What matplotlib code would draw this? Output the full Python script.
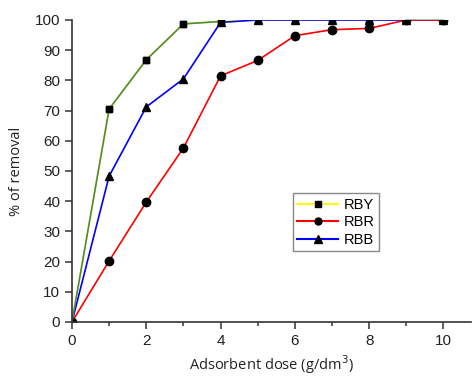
import matplotlib.pyplot as plt
from matplotlib.lines import Line2D

# adsorbent dose (g/dm3)
dose = [0, 1, 2, 3, 4, 5, 6, 7, 8, 9, 10]

# % of removal
rby = [0, 70.5, 86.8, 98.7, 99.5, 100, 100, 100, 100, 100, 100]
rbr = [0, 20.2, 39.7, 57.6, 81.5, 86.6, 94.8, 96.8, 97.2, 100, 100]
rbb = [0, 48.3, 71.2, 80.5, 99.2, 100, 100, 100, 100, 100, 100]

fig = plt.figure(figsize=(4.72, 3.77), dpi=100)
ax = fig.add_axes([0.1525, 0.146, 0.846, 0.801])

ax.plot(dose, rby, color='yellow', lw=1.2, marker='s', ms=5, mfc='black', mec='black',
        zorder=3)
ax.plot(dose, rbb, color='blue', lw=1.2, marker='^', ms=5.5, mfc='black', mec='black',
        zorder=3)
ax.plot(dose, rbr, color='red', lw=1.2, marker='o', ms=6, mfc='black', mec='black',
        zorder=3)
# green start of the RBY curve and grey end segment, as in the original
ax.plot(dose[:5], rby[:5], color='#4e8a46', lw=1.2, clip_on=False, zorder=4)
ax.plot(dose[9:], rby[9:], color='#aaaaaa', lw=1.2, clip_on=False, zorder=2)
ax.plot(dose[1:5], rby[1:5], ls='none', marker='s', ms=5, color='black', zorder=5)

ax.set_xlim(0, 10.75)
ax.set_ylim(0, 100)
ax.set_xticks([0, 2, 4, 6, 8, 10])
ax.set_xticks([1, 3, 5, 7, 9], minor=True)
ax.set_yticks(range(0, 101, 10))

ax.spines['top'].set_visible(False)
ax.spines['right'].set_visible(False)
for s in ['left', 'bottom']:
    ax.spines[s].set_color('#333333')
    ax.spines[s].set_linewidth(1.2)
    ax.spines[s].set_zorder(6)
ax.tick_params(direction='out', length=5, width=1.1, color='#333333',
               labelsize=11, labelcolor='#222222')
ax.tick_params(which='minor', direction='out', length=3, width=1.1, color='#333333')
for lab in ax.get_xticklabels() + ax.get_yticklabels():
    lab.set_family('Liberation Sans')

ax.set_xlabel('Adsorbent dose (g/dm$^3$)', family='Open Sans', fontsize=10.5, color='#222222')
ax.set_ylabel('% of removal', family='Open Sans', fontsize=10.5, color='#222222', labelpad=8)

handles = [
    Line2D([], [], color='yellow', marker='s', ms=5, mfc='black', mec='black'),
    Line2D([], [], color='red', marker='o', ms=5, mfc='black', mec='black'),
    Line2D([], [], color='blue', marker='^', ms=5.5, mfc='black', mec='black'),
]
leg = ax.legend(handles, ['RBY', 'RBR', 'RBB'], loc='upper left',
                bbox_to_anchor=(0.535, 0.45), fancybox=False, framealpha=1,
                edgecolor='#888888', handlelength=2.8, borderpad=0.3,
                labelspacing=0.25, handletextpad=0.4,
                prop={'family': 'Liberation Sans', 'size': 10.5})
leg.get_frame().set_linewidth(1.0)

fig.savefig('out.png', dpi=100)
